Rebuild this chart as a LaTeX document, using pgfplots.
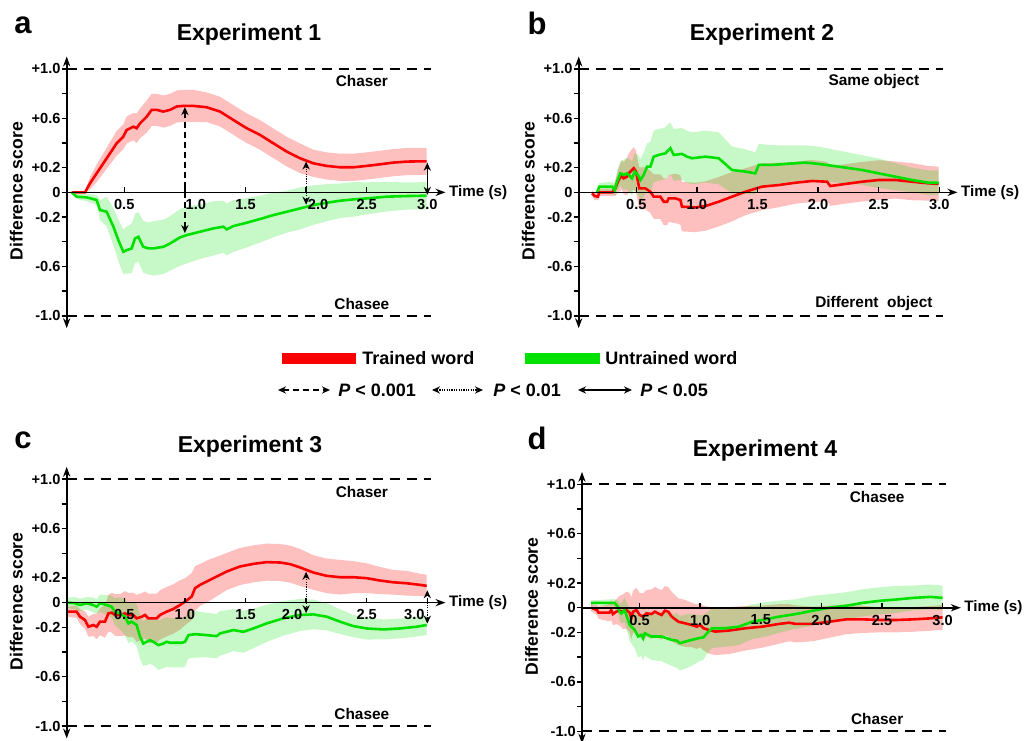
\documentclass[border=0pt]{standalone}
\usepackage{fontspec}
\setmainfont{Liberation Sans}
\usepackage{pgfplots}
\pgfplotsset{compat=1.18}
\usepackage{pgfplotstable}
\usepgfplotslibrary{fillbetween}
\usetikzlibrary{arrows.meta}
\definecolor{trained}{RGB}{250,0,0}
\definecolor{untrained}{RGB}{0,225,0}

% columns: t = time (s), m = mean difference score, e = half width of band
\pgfplotstableread{
t m e
0.066 0 0
0.176 0 0
0.217 0.073 0.05
0.272 0.154 0.07
0.327 0.235 0.08
0.382 0.316 0.09
0.437 0.397 0.10
0.492 0.451 0.10
0.520 0.505 0.11
0.575 0.532 0.11
0.602 0.519 0.12
0.630 0.559 0.12
0.685 0.613 0.13
0.726 0.668 0.13
0.767 0.668 0.13
0.822 0.654 0.13
0.877 0.668 0.13
0.932 0.695 0.13
0.987 0.700 0.13
1.070 0.700 0.13
1.180 0.689 0.12
1.290 0.654 0.12
1.400 0.586 0.12
1.510 0.519 0.12
1.620 0.465 0.12
1.730 0.397 0.12
1.840 0.330 0.12
1.950 0.276 0.12
2.060 0.235 0.11
2.170 0.214 0.11
2.280 0.203 0.11
2.390 0.203 0.11
2.500 0.214 0.11
2.610 0.227 0.11
2.720 0.241 0.11
2.830 0.249 0.11
2.940 0.251 0.11
2.995 0.251 0.11
}\aRed
\pgfplotstableread{
t m e
0.066 0 0
0.107 -0.035 0.02
0.190 -0.041 0.03
0.272 -0.062 0.04
0.300 -0.143 0.08
0.355 -0.157 0.12
0.410 -0.278 0.15
0.451 -0.386 0.17
0.492 -0.481 0.18
0.520 -0.468 0.19
0.561 -0.454 0.20
0.589 -0.373 0.20
0.616 -0.360 0.20
0.657 -0.441 0.21
0.699 -0.454 0.21
0.740 -0.454 0.22
0.822 -0.441 0.22
0.877 -0.414 0.22
0.960 -0.365 0.23
1.015 -0.346 0.23
1.125 -0.319 0.22
1.235 -0.292 0.22
1.317 -0.278 0.21
1.345 -0.300 0.21
1.400 -0.273 0.21
1.510 -0.246 0.20
1.620 -0.216 0.19
1.730 -0.184 0.18
1.840 -0.157 0.17
1.950 -0.130 0.17
2.060 -0.103 0.16
2.170 -0.084 0.15
2.280 -0.068 0.14
2.390 -0.057 0.14
2.500 -0.049 0.13
2.665 -0.035 0.12
2.830 -0.030 0.11
2.995 -0.027 0.11
}\aGreen
\pgfplotstableread{
t m e
0.135 -0.008 0.02
0.157 -0.030 0.03
0.184 -0.035 0.03
0.195 0 0.03
0.300 0 0.03
0.327 0.032 0.06
0.355 0.100 0.10
0.382 0.141 0.12
0.396 0.114 0.13
0.424 0.127 0.15
0.437 0.154 0.16
0.465 0.181 0.17
0.479 0.195 0.17
0.498 0.168 0.17
0.514 0.086 0.17
0.525 0.032 0.17
0.575 0.032 0.17
0.616 0.005 0.17
0.644 -0.035 0.18
0.699 -0.035 0.18
0.726 -0.076 0.19
0.754 -0.076 0.19
0.767 -0.049 0.19
0.822 -0.049 0.20
0.864 -0.062 0.20
0.877 -0.116 0.20
0.987 -0.122 0.20
1.070 -0.111 0.20
1.180 -0.076 0.20
1.290 -0.035 0.20
1.400 0.005 0.19
1.537 0.046 0.19
1.675 0.059 0.18
1.812 0.078 0.17
1.950 0.092 0.17
2.074 0.086 0.16
2.101 0.051 0.16
2.225 0.068 0.16
2.362 0.086 0.16
2.500 0.100 0.16
2.638 0.100 0.15
2.775 0.086 0.15
2.912 0.073 0.14
2.995 0.068 0.14
}\bRed
\pgfplotstableread{
t m e
0.176 0 0.02
0.195 0.046 0.03
0.300 0.046 0.04
0.322 0.019 0.05
0.341 0.087 0.08
0.369 0.154 0.10
0.396 0.141 0.12
0.424 0.154 0.13
0.465 0.114 0.14
0.487 0.168 0.15
0.514 0.141 0.16
0.534 0.100 0.17
0.561 0.141 0.18
0.589 0.208 0.19
0.616 0.208 0.20
0.644 0.289 0.21
0.685 0.303 0.21
0.740 0.316 0.21
0.781 0.357 0.21
0.809 0.303 0.21
0.877 0.311 0.21
0.919 0.289 0.21
0.960 0.276 0.21
1.070 0.289 0.21
1.180 0.276 0.21
1.290 0.181 0.19
1.400 0.168 0.18
1.482 0.154 0.17
1.510 0.222 0.17
1.620 0.222 0.16
1.730 0.230 0.15
1.895 0.241 0.14
2.005 0.230 0.14
2.170 0.208 0.13
2.362 0.181 0.12
2.500 0.154 0.12
2.638 0.127 0.11
2.775 0.100 0.10
2.912 0.078 0.10
2.995 0.078 0.10
}\bGreen
\pgfplotstableread{
t m e
0.025 -0.073 0.04
0.107 -0.073 0.05
0.135 -0.114 0.06
0.176 -0.141 0.07
0.204 -0.195 0.08
0.245 -0.181 0.09
0.272 -0.195 0.10
0.300 -0.154 0.11
0.341 -0.154 0.13
0.369 -0.087 0.15
0.396 -0.081 0.16
0.424 -0.100 0.17
0.465 -0.100 0.17
0.506 -0.087 0.18
0.534 -0.100 0.18
0.575 -0.100 0.18
0.602 -0.127 0.19
0.644 -0.114 0.19
0.671 -0.100 0.19
0.699 -0.127 0.20
0.767 -0.127 0.20
0.795 -0.100 0.20
0.850 -0.073 0.20
0.905 -0.051 0.20
0.960 -0.019 0.20
1.001 0.008 0.19
1.056 0.049 0.19
1.084 0.117 0.18
1.125 0.144 0.17
1.180 0.171 0.17
1.262 0.211 0.16
1.345 0.252 0.15
1.455 0.293 0.15
1.565 0.314 0.15
1.675 0.328 0.15
1.785 0.325 0.15
1.867 0.312 0.15
1.950 0.285 0.15
2.060 0.244 0.14
2.170 0.217 0.14
2.280 0.206 0.14
2.390 0.206 0.13
2.500 0.198 0.12
2.610 0.179 0.11
2.720 0.165 0.10
2.830 0.157 0.10
2.940 0.144 0.09
2.995 0.136 0.09
}\cRed
\pgfplotstableread{
t m e
0.025 0 0.04
0.094 -0.005 0.05
0.135 -0.019 0.05
0.190 -0.005 0.05
0.245 -0.019 0.06
0.272 -0.033 0.06
0.300 -0.005 0.07
0.355 -0.019 0.08
0.396 -0.033 0.09
0.424 -0.073 0.11
0.465 -0.087 0.13
0.506 -0.114 0.15
0.534 -0.168 0.16
0.561 -0.154 0.16
0.602 -0.181 0.17
0.630 -0.276 0.18
0.657 -0.331 0.18
0.685 -0.317 0.19
0.712 -0.304 0.19
0.740 -0.317 0.19
0.781 -0.344 0.20
0.822 -0.331 0.20
0.850 -0.317 0.20
0.877 -0.325 0.20
0.974 -0.325 0.20
1.001 -0.317 0.20
1.029 -0.263 0.19
1.084 -0.255 0.19
1.180 -0.263 0.18
1.262 -0.271 0.18
1.290 -0.249 0.18
1.400 -0.222 0.17
1.482 -0.236 0.17
1.565 -0.209 0.16
1.675 -0.168 0.15
1.812 -0.127 0.14
1.950 -0.100 0.13
2.060 -0.095 0.12
2.170 -0.114 0.11
2.280 -0.154 0.10
2.390 -0.190 0.09
2.500 -0.209 0.09
2.638 -0.217 0.08
2.775 -0.209 0.08
2.912 -0.195 0.08
2.995 -0.181 0.08
}\cGreen
\pgfplotstableread{
t m e
0.100 0 0.03
0.150 -0.019 0.04
0.161 -0.040 0.05
0.252 -0.040 0.07
0.266 -0.019 0.08
0.280 -0.051 0.09
0.307 -0.032 0.10
0.335 -0.024 0.12
0.363 -0.032 0.14
0.391 -0.019 0.15
0.418 -0.040 0.16
0.432 -0.086 0.17
0.446 -0.032 0.17
0.474 -0.019 0.18
0.501 -0.059 0.18
0.529 -0.072 0.19
0.557 -0.046 0.19
0.598 -0.051 0.20
0.626 -0.032 0.20
0.654 -0.046 0.20
0.681 -0.059 0.20
0.709 -0.024 0.20
0.737 -0.032 0.20
0.765 -0.072 0.20
0.820 -0.113 0.19
0.875 -0.126 0.19
0.931 -0.140 0.18
0.972 -0.153 0.18
1.000 -0.140 0.18
1.028 -0.166 0.18
1.069 -0.180 0.19
1.125 -0.193 0.19
1.235 -0.185 0.19
1.374 -0.166 0.18
1.512 -0.153 0.17
1.651 -0.131 0.16
1.734 -0.121 0.15
1.789 -0.131 0.15
1.928 -0.131 0.14
2.066 -0.113 0.13
2.205 -0.094 0.12
2.343 -0.094 0.11
2.482 -0.099 0.10
2.620 -0.099 0.10
2.759 -0.094 0.10
2.898 -0.086 0.10
3.000 -0.078 0.10
}\dRed
\pgfplotstableread{
t m e
0.100 0.040 0.02
0.294 0.040 0.03
0.321 0.008 0.05
0.335 -0.032 0.07
0.349 -0.046 0.08
0.377 -0.019 0.10
0.391 -0.059 0.11
0.418 -0.140 0.13
0.460 -0.180 0.15
0.488 -0.233 0.17
0.515 -0.220 0.17
0.529 -0.247 0.18
0.543 -0.207 0.18
0.598 -0.233 0.19
0.681 -0.233 0.20
0.765 -0.260 0.21
0.806 -0.266 0.22
0.834 -0.287 0.22
0.875 -0.274 0.22
0.931 -0.260 0.21
0.986 -0.247 0.19
1.028 -0.239 0.18
1.055 -0.207 0.17
1.097 -0.166 0.16
1.208 -0.166 0.15
1.319 -0.153 0.15
1.429 -0.113 0.14
1.540 -0.094 0.14
1.651 -0.072 0.13
1.789 -0.051 0.12
1.928 -0.024 0.12
2.066 0 0.11
2.205 0.016 0.11
2.343 0.040 0.11
2.482 0.056 0.11
2.620 0.067 0.11
2.759 0.080 0.10
2.898 0.088 0.10
3.000 0.080 0.10
}\dGreen

\tikzset{
  ah/.tip={Stealth[length=4pt,width=3.6pt]},
  sig/.style={line width=0.7pt, ah-ah},
  sigdash/.style={sig, dash pattern=on 3pt off 2pt},
  sigdot/.style={sig, line width=0.6pt, dash pattern=on 0.6pt off 0.6pt},
}
\pgfplotsset{
  panel/.style={
    scale only axis, width=189.4pt, height=135.85pt,
    anchor=south west,
    xmin=0.025, xmax=3.15, ymin=-1.1, ymax=1.1,
    axis x line=middle, axis y line=left,
    axis on top, clip=false,
    x axis line style={line width=0.8pt, -{Stealth[length=5pt,width=3.6pt]}},
    y axis line style={line width=0.8pt, {Stealth[length=5pt,width=3.6pt]}-{Stealth[length=5pt,width=3.6pt]}},
    xtick={0.5,1,1.5,2,2.5,3},
    ytick={-1,-0.8,-0.6,-0.4,-0.2,0,0.2,0.4,0.6,0.8,1},
    yticklabels={-1.0,{},-0.6,{},-0.2,0,+0.2,{},+0.6,{},+1.0},
    xticklabels={0.5,1.0,1.5,2.0,2.5,3.0},
    tick style={black, line width=0.7pt},
    major tick length=2.5pt,
    xtick align=inside, ytick align=outside,
    ticklabel style={font=\fontsize{7.3}{8.5}\selectfont\bfseries},
    yticklabel style={inner xsep=0.4pt},
    /pgf/number format/assume math mode=true,
  },
  band/.style={draw=none, forget plot},
}
\newcommand{\bands}[2]{%
  \addplot[band, name path=ru] table[x=t, y expr=\thisrow{m}+\thisrow{e}] {#1};
  \addplot[band, name path=rl] table[x=t, y expr=\thisrow{m}-\thisrow{e}] {#1};
  \addplot[fill=trained, fill opacity=0.25, forget plot] fill between[of=ru and rl];
  \addplot[band, name path=gu] table[x=t, y expr=\thisrow{m}+\thisrow{e}] {#2};
  \addplot[band, name path=gl] table[x=t, y expr=\thisrow{m}-\thisrow{e}] {#2};
  \addplot[fill=untrained, fill opacity=0.22, forget plot] fill between[of=gu and gl];
  \addplot[trained, line width=1.3pt] table[x=t, y=m] {#1};
  \addplot[untrained, line width=1.3pt] table[x=t, y=m] {#2};
}
\newcommand{\panelframe}[2]{%
  \draw[line width=0.9pt, dash pattern=on 5pt off 3.5pt] (axis cs:0.025,1) -- (axis cs:3.03,1);
  \draw[line width=0.9pt, dash pattern=on 5pt off 3.5pt] (axis cs:0.025,-1) -- (axis cs:3.03,-1);
  \node[font=\fontsize{7.7}{9}\selectfont\bfseries] at (axis cs:2.46,0.9) {#1};
  \node[font=\fontsize{7.7}{9}\selectfont\bfseries] at (axis cs:2.46,-0.9) {#2};
  \node[anchor=west, inner sep=1pt, font=\fontsize{7.6}{9}\selectfont\bfseries] at (axis cs:3.16,0) {Time (s)};
  \node[rotate=90, font=\fontsize{8.8}{10}\selectfont\bfseries] at (axis cs:-0.39,0.01) {Difference score};
}

\begin{document}
\begin{tikzpicture}
% a
\begin{axis}[panel, at={(33.35pt,205.9pt)},
  xticklabels={0.5,\kern11pt 1.0,1.5,\kern12pt 2.0,2.5,3.0}]
\bands{\aRed}{\aGreen}
\panelframe{Chaser}{Chasee}
\draw[sigdash] (axis cs:1.0,0.69) -- (axis cs:1.0,-0.33);
\draw[sigdot] (axis cs:2.0,0.25) -- (axis cs:2.0,-0.10);
\draw[sig] (axis cs:3.0,0.24) -- (axis cs:3.0,-0.02);
\end{axis}

% b
\begin{axis}[panel, at={(289.35pt,205.9pt)}]
\bands{\bRed}{\bGreen}
\panelframe{Same object}{Different\ \ object}
\end{axis}

% c
\begin{axis}[panel, at={(33.35pt,0.75pt)},
  xticklabels={0.5,1.0,1.5,2.0\kern14pt,2.5,3.0\kern13pt}]
\bands{\cRed}{\cGreen}
\panelframe{Chaser}{Chasee}
\draw[sigdot] (axis cs:2.0,0.25) -- (axis cs:2.0,-0.085);
\draw[sigdot] (axis cs:3.0,0.10) -- (axis cs:3.0,-0.17);
\end{axis}

% d
\begin{axis}[panel, at={(291pt,-1.8pt)}]
\bands{\dRed}{\dGreen}
\panelframe{Chasee}{Chaser}
\end{axis}

% panel letters and titles
\begin{scope}[every node/.style={font=\fontsize{15.5}{17}\selectfont\bfseries}]
\node at (11.5pt,357.5pt) {a};
\node at (268.5pt,358.5pt) {b};
\node at (11.5pt,150pt) {c};
\node at (268.5pt,151pt) {d};
\end{scope}
\begin{scope}[every node/.style={font=\fontsize{11.5}{13}\selectfont\bfseries}]
\node at (124.5pt,352.5pt) {Experiment 1};
\node at (381pt,352.5pt) {Experiment 2};
\node at (125pt,146.5pt) {Experiment 3};
\node at (382.5pt,144.5pt) {Experiment 4};
\end{scope}

% legend
\fill[trained] (141pt,188pt) rectangle (178pt,193.5pt);
\fill[untrained] (262.5pt,188pt) rectangle (300pt,193.5pt);
\begin{scope}[every node/.style={anchor=west, inner sep=0pt, font=\fontsize{9}{11}\selectfont\bfseries}]
\node at (181pt,190.75pt) {Trained word};
\node at (302.5pt,190.75pt) {Untrained word};
\node at (169pt,175pt) {\textit{P} < 0.001};
\node at (246.5pt,175pt) {\textit{P} < 0.01};
\node at (320pt,175pt) {\textit{P} < 0.05};
\end{scope}
\draw[sigdash] (139pt,175pt) -- (165pt,175pt);
\draw[sigdot] (216pt,175pt) -- (241.5pt,175pt);
\draw[sig] (289pt,175pt) -- (316pt,175pt);

\pgfresetboundingbox
\path[use as bounding box] (0,0) rectangle (512pt,370pt);
\end{tikzpicture}
\end{document}
